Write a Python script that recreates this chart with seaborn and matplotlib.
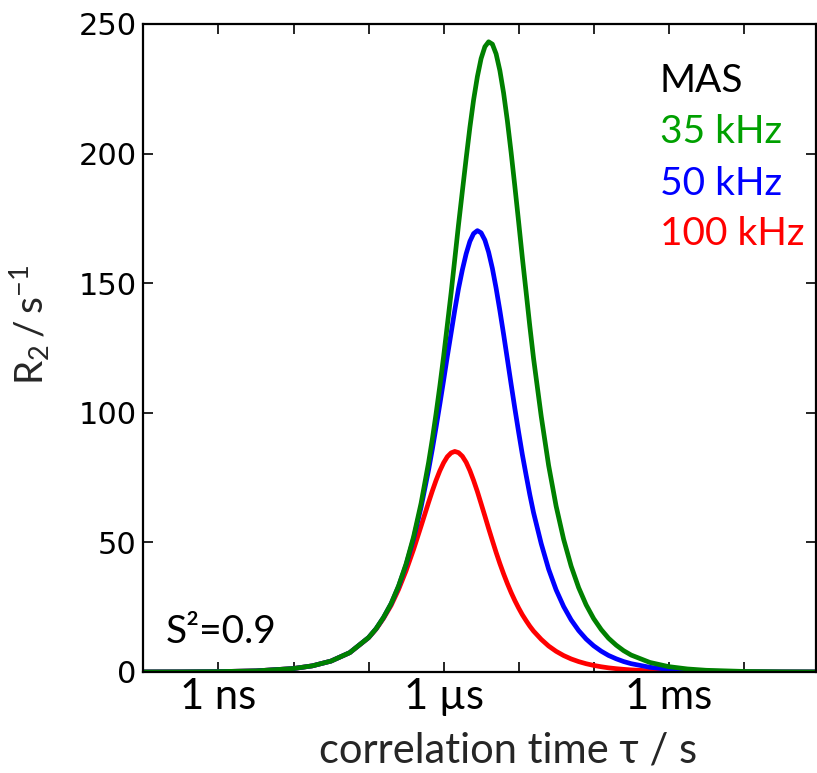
import matplotlib
matplotlib.use("Agg")
import matplotlib.pyplot as plt
import seaborn as sns
import pandas as pd
from matplotlib.ticker import NullLocator

# ---------------- data ----------------
tau = [1e-10, 3.16e-10, 1e-9, 3.16e-9, 1e-8, 1.78e-8, 3.16e-8, 5.62e-8,
       1e-7, 1.26e-7, 1.58e-7, 2.00e-7, 2.51e-7, 3.16e-7, 3.98e-7, 5.01e-7,
       6.31e-7, 7.08e-7, 7.94e-7, 8.91e-7, 1e-6, 1.12e-6, 1.26e-6, 1.41e-6,
       1.58e-6, 1.78e-6, 2.00e-6, 2.24e-6, 2.51e-6, 2.82e-6, 3.16e-6, 3.55e-6,
       3.98e-6, 4.47e-6, 5.01e-6, 5.62e-6, 6.31e-6, 7.08e-6, 7.94e-6, 8.91e-6,
       1e-5, 1.12e-5, 1.26e-5, 1.41e-5, 1.58e-5, 2.00e-5, 2.51e-5, 3.16e-5,
       3.98e-5, 5.01e-5, 6.31e-5, 7.94e-5, 1e-4, 1.26e-4, 1.58e-4, 2.00e-4,
       2.51e-4, 3.16e-4, 5.62e-4, 1e-3, 1.78e-3, 3.16e-3, 1e-2, 3.16e-2, 1e-1]

r2_35khz = [0.013, 0.042, 0.133, 0.42, 1.33, 2.36, 4.20, 7.47, 13.28, 16.71,
            21.02, 26.42, 33.19, 41.64, 52.13, 65.06, 80.82, 89.85, 99.68, 110.29,
            121.67, 133.71, 146.32, 159.33, 172.51, 185.58, 198.23, 210.06, 220.69, 229.69,
            236.65, 241.22, 243.12, 242.20, 238.46, 232.05, 223.29, 212.59, 200.42, 187.28,
            173.64, 159.90, 146.39, 133.36, 121.00, 98.65, 79.69, 63.98, 51.17, 40.83,
            32.52, 25.88, 20.58, 16.36, 13.00, 10.33, 8.21, 6.52, 3.67, 2.06,
            1.16, 0.65, 0.21, 0.065, 0.021]

r2_50khz = [0.013, 0.042, 0.133, 0.42, 1.33, 2.36, 4.20, 7.47, 13.27, 16.69,
            20.97, 26.33, 32.99, 41.25, 51.36, 63.57, 77.99, 86.00, 94.48, 103.34,
            112.47, 121.70, 130.84, 139.65, 147.87, 155.21, 161.38, 166.11, 169.13, 170.27,
            169.43, 166.62, 161.96, 155.68, 148.07, 139.47, 130.22, 120.65, 111.03, 101.60,
            92.51, 83.91, 75.84, 68.37, 61.49, 49.50, 39.65, 31.66, 25.24, 20.09,
            15.98, 12.70, 10.10, 8.02, 6.37, 5.07, 4.02, 3.20, 1.80, 1.01,
            0.57, 0.32, 0.10, 0.032, 0.010]

r2_100khz = [0.013, 0.042, 0.133, 0.42, 1.33, 2.36, 4.20, 7.45, 13.19, 16.52,
             20.66, 25.72, 31.83, 39.05, 47.30, 56.29, 65.47, 69.86, 73.96, 77.62,
             80.69, 83.04, 84.53, 85.08, 84.63, 83.21, 80.87, 77.71, 73.90, 69.59,
             64.96, 60.17, 55.38, 50.67, 46.13, 41.84, 37.82, 34.09, 30.66, 27.52,
             24.67, 22.09, 19.76, 17.66, 15.78, 12.58, 10.01, 7.97, 6.33, 5.03,
             4.00, 3.18, 2.53, 2.01, 1.59, 1.27, 1.01, 0.80, 0.45, 0.25,
             0.14, 0.08, 0.025, 0.008, 0.0025]

series_names = ["35 kHz", "50 kHz", "100 kHz"]
line_colors = {"35 kHz": "#008000", "50 kHz": "#0000ff", "100 kHz": "#ff0000"}
text_colors = {"35 kHz": "#00a000", "50 kHz": "#0000ff", "100 kHz": "#ff0000"}
legend_title = "MAS"
annotation = "S²=0.9"

xtick_values = [1e-9, 1e-8, 1e-7, 1e-6, 1e-5, 1e-4, 1e-3, 1e-2]
xtick_labels = ["1 ns", "", "", "1 µs", "", "", "1 ms", ""]
ytick_values = [0, 50, 100, 150, 200, 250]
ytick_labels = ["0", "50", "100", "150", "200", "250"]

xlabel = "correlation time τ / s"
ylabel = r"$\mathregular{R_2\,/\,s^{-1}}$"

# ---------------- style ----------------
sns.set_style("ticks")
plt.rcParams["font.family"] = ["Lato", "DejaVu Sans"]
plt.rcParams["axes.linewidth"] = 1.6

df = pd.concat([
    pd.DataFrame({"tau": tau, "R2": r2_35khz, "series": "35 kHz"}),
    pd.DataFrame({"tau": tau, "R2": r2_50khz, "series": "50 kHz"}),
    pd.DataFrame({"tau": tau, "R2": r2_100khz, "series": "100 kHz"}),
])

fig = plt.figure(figsize=(8.17, 7.73), dpi=100)
ax = fig.add_axes([0.1756, 0.1307, 0.8228, 0.8383])
ax.set_xscale("log")

sns.lineplot(data=df, x="tau", y="R2", hue="series",
             hue_order=["100 kHz", "50 kHz", "35 kHz"],
             palette=line_colors, linewidth=3.4, legend=False,
             estimator=None, sort=False, ax=ax)

ax.set_xlim(1e-10, 9.1e-2)
ax.set_ylim(0, 250)

ax.set_xticks(xtick_values, labels=xtick_labels, fontsize=30)
ax.xaxis.set_minor_locator(NullLocator())
ax.set_yticks(ytick_values, labels=ytick_labels, fontsize=22,
              fontfamily="DejaVu Sans")

ax.tick_params(axis="both", which="major", direction="in", top=True,
               right=True, length=7, width=1.2, colors="black")
ax.tick_params(axis="x", pad=4)
ax.tick_params(axis="y", pad=5)

for s in ax.spines.values():
    s.set_visible(True)
    s.set_linewidth(1.6)
    s.set_color("black")
    s.set_zorder(5)

ax.set_xlabel(xlabel, fontsize=30, va="baseline")
ax.xaxis.set_label_coords(0.542, -0.140)
ax.set_ylabel(ylabel, fontsize=28, va="baseline", rotation_mode="anchor")
ax.yaxis.set_label_coords(-0.148, 0.536)

# legend-like coloured labels
ax.text(0.768, 0.895, legend_title, transform=ax.transAxes, fontsize=28,
        color="black", ha="left", va="baseline")
for name, ypos in zip(series_names, [0.816, 0.736, 0.659]):
    ax.text(0.768, ypos, name, transform=ax.transAxes, fontsize=28,
            color=text_colors[name], ha="left", va="baseline")

ax.text(0.0335, 0.0448, annotation, transform=ax.transAxes, fontsize=28,
        color="black", ha="left", va="baseline")

fig.savefig("out.png", dpi=100)
